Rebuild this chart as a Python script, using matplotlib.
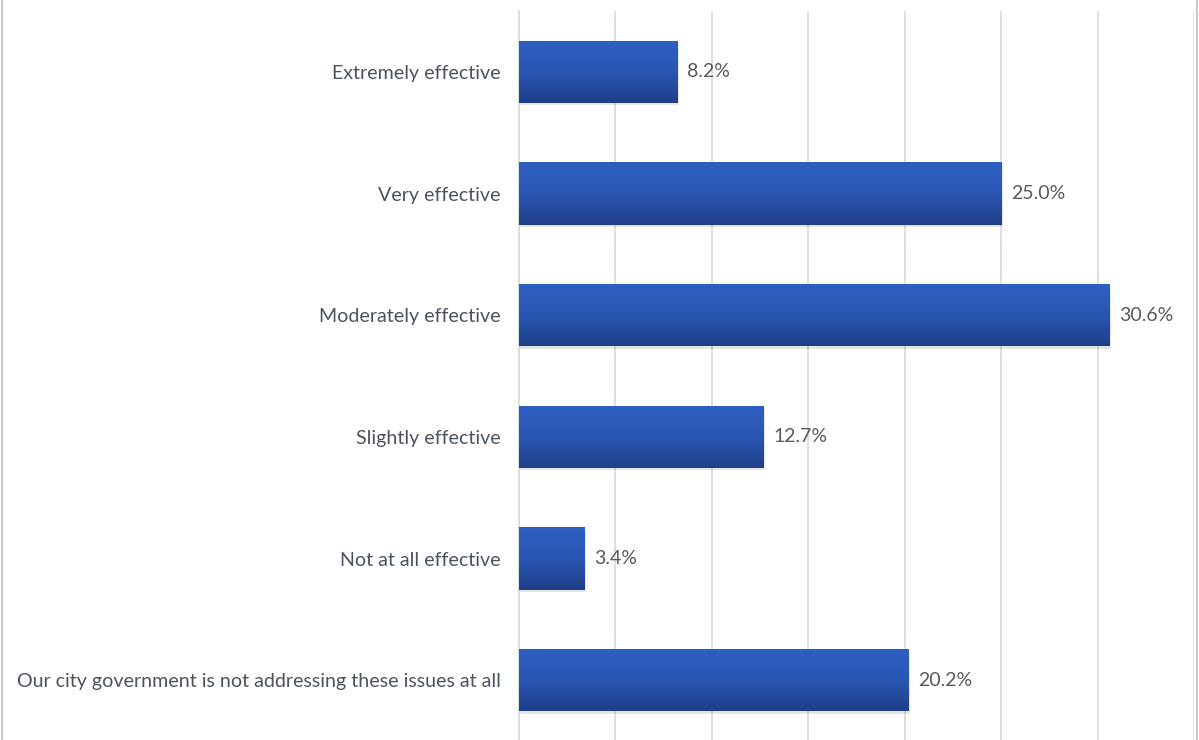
import numpy as np
import matplotlib.pyplot as plt
from matplotlib.colors import LinearSegmentedColormap
from matplotlib.lines import Line2D

categories = ["Extremely effective", "Very effective", "Moderately effective",
              "Slightly effective", "Not at all effective",
              "Our city government is not addressing these issues at all"]
values = [8.2, 25.0, 30.6, 12.7, 3.4, 20.2]

plt.rcParams['font.family'] = ['Lato', 'DejaVu Sans']

fig = plt.figure(figsize=(11.99, 7.40), dpi=100)
ax = fig.add_axes([519 / 1199, -1 / 740, 675 / 1199, 730 / 740])

y = np.arange(len(categories))
bars = ax.barh(y, values, height=0.51, color='#2853B0', zorder=3)

# vertical gradient on each bar, lighter at top
grad = LinearSegmentedColormap.from_list('bar', ['#1F3F88', '#2A56B3', '#2E60C2'])
g = np.linspace(0, 1, 256).reshape(-1, 1)
for b in bars:
    x0, y0 = b.get_x(), b.get_y()
    w, h = b.get_width(), b.get_height()
    # soft shadow under the bar
    ax.add_patch(plt.Rectangle((x0, y0 + 0.02), w + 0.08, h, color='#000000',
                               alpha=0.10, zorder=2, lw=0))
    im = ax.imshow(g, cmap=grad, aspect='auto', origin='lower',
                   extent=(x0, x0 + w, y0 + h, y0), zorder=4)
    im.set_clip_path(b)

for yi, v in zip(y, values):
    ax.text(v + 0.5, yi, f"{v:.1f}%", va='center', ha='left',
            fontsize=14, color='#595959', zorder=5)

ax.set_xlim(0, 35)
ax.set_ylim(len(categories) - 0.5, -0.5)
ax.set_xticks(np.arange(0, 36, 5))
ax.xaxis.grid(True, color='#D9D9D9', lw=1.2, zorder=0)
ax.tick_params(axis='x', length=0, labelbottom=False)
ax.set_yticks(y)
ax.set_yticklabels(categories, fontsize=14.1, color='#4A5360')
ax.tick_params(axis='y', length=0, pad=13)
for s in ['top', 'right', 'bottom']:
    ax.spines[s].set_visible(False)
ax.spines['left'].set_color('#D9D9D9')
ax.spines['left'].set_linewidth(1.2)

# outer chart frame edges
fig.add_artist(Line2D([2 / 1199, 2 / 1199], [0, 1], color='#BFBFBF', lw=1.2))
fig.add_artist(Line2D([1197 / 1199, 1197 / 1199], [0, 1], color='#BFBFBF', lw=1.2))

fig.savefig('out.png', dpi=100)
